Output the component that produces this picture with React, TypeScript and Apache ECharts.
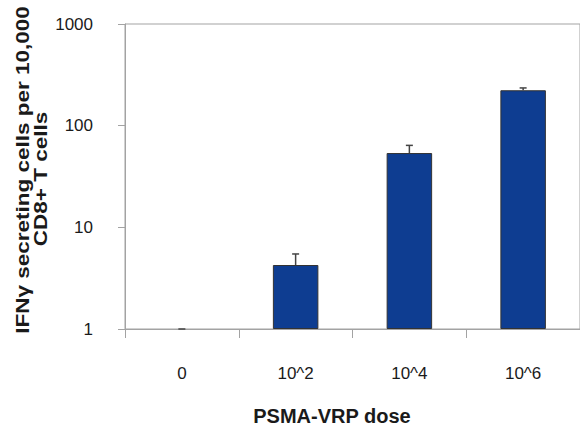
import React, { useEffect, useRef } from "react";
import * as echarts from "echarts";

const categories = ["0", "10^2", "10^4", "10^6"];
const meanValues = [1, 4.26, 53.8, 223];
const errorTops = [1, 5.47, 64, 235];
const yTicks = [1, 10, 100, 1000];

const sans = "'Liberation Sans', Arial, Helvetica, sans-serif";

export default function App() {
  const ref = useRef<HTMLDivElement>(null);
  useEffect(() => {
    const chart = echarts.init(ref.current!, null, { renderer: "svg" });
    const yMin = yTicks[0];
    const barData = meanValues.map((v) => (v > yMin ? v : "-"));
    const errData = categories.map((_, i) => [i, meanValues[i], errorTops[i]]);
    chart.setOption({
      animation: false,
      backgroundColor: "#ffffff",
      grid: {
        left: 125,
        top: 24,
        bottom: 98,
        right: -6,
        show: true,
        borderColor: "#a3a3a3",
        borderWidth: 1,
        backgroundColor: "transparent",
      },
      xAxis: {
        type: "category",
        data: categories,
        axisLine: { lineStyle: { color: "#a3a3a3", width: 1 } },
        axisTick: { show: true, length: 9, lineStyle: { color: "#a3a3a3" } },
        axisLabel: {
          margin: 36,
          fontSize: 17,
          fontFamily: sans,
          color: "#1a1a1a",
        },
      },
      yAxis: {
        type: "log",
        logBase: 10,
        min: yMin,
        max: yTicks[yTicks.length - 1],
        interval: 1,
        splitLine: { show: false },
        axisLine: { show: true, lineStyle: { color: "#a3a3a3", width: 1 } },
        axisTick: { show: true, length: 7, lineStyle: { color: "#a3a3a3" } },
        axisLabel: {
          margin: 32,
          fontSize: 17,
          fontFamily: sans,
          color: "#1a1a1a",
          formatter: (v: number) => String(Math.round(v)),
        },
      },
      series: [
        {
          type: "bar",
          data: barData,
          barWidth: "40%",
          itemStyle: { color: "#0e3d91", borderColor: "#333", borderWidth: 1 },
        },
        {
          type: "custom",
          data: errData,
          encode: { x: 0, y: [1, 2] },
          renderItem: (params: any, api: any) => {
            const i = api.value(0);
            const base = api.coord([i, api.value(1)]);
            const top = api.coord([i, api.value(2)]);
            const hw = 3.5;
            return {
              type: "group",
              children: [
                {
                  type: "line",
                  shape: { x1: base[0], y1: base[1], x2: top[0], y2: top[1] },
                  style: { stroke: "#444", lineWidth: 1.5 },
                },
                {
                  type: "line",
                  shape: { x1: top[0] - hw, y1: top[1], x2: top[0] + hw, y2: top[1] },
                  style: { stroke: "#444", lineWidth: 1.5 },
                },
              ],
            };
          },
          z: 5,
        },
      ],
      graphic: [
        {
          type: "text",
          x: 23,
          y: 170,
          rotation: Math.PI / 2,
          scaleX: 1.25,
          style: {
            text: "IFNγ secreting cells per 10,000",
            fontSize: 18,
            fontWeight: "bold",
            fontFamily: sans,
            fill: "#1a1a1a",
            align: "center",
            verticalAlign: "middle",
          },
        },
        {
          type: "text",
          x: 41,
          y: 179,
          rotation: Math.PI / 2,
          scaleX: 1.25,
          style: {
            text: "CD8+ T cells",
            fontSize: 18,
            fontWeight: "bold",
            fontFamily: sans,
            fill: "#1a1a1a",
            align: "center",
            verticalAlign: "middle",
          },
        },
        {
          type: "text",
          x: 332,
          y: 416,
          style: {
            text: "PSMA-VRP dose",
            fontSize: 20,
            fontWeight: "bold",
            fontFamily: sans,
            fill: "#1a1a1a",
            align: "center",
            verticalAlign: "middle",
          },
        },
      ],
    });
    return () => chart.dispose();
  }, []);
  return (
    <div
      ref={ref}
      style={{ position: "absolute", left: 0, top: 0, width: 580, height: 427 }}
    />
  );
}
